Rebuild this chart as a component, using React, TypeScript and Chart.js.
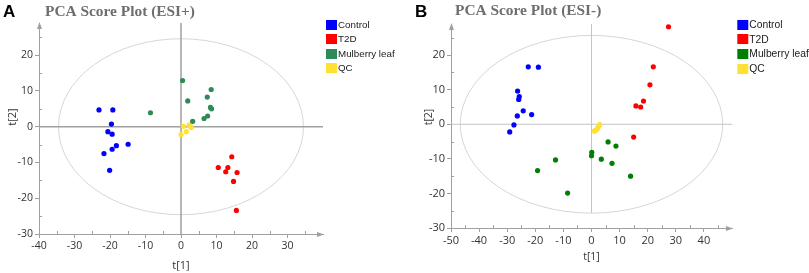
import React, { useEffect, useRef } from 'react';
import { Chart, registerables } from 'chart.js';
Chart.register(...registerables);

const GROUP_LABELS = ['Control', 'T2D', 'Mulberry leaf', 'QC'];

// Panel A (ESI+)
const A_CONTROL_X = [-23.1, -19.2, -19.6, -20.6, -19.4, -14.9, -18.2, -19.4, -21.7, -20.1];
const A_CONTROL_Y = [4.7, 4.7, 0.75, -1.4, -2.1, -4.9, -5.3, -6.3, -7.5, -12.2];
const A_T2D_X = [14.3, 10.5, 13.2, 12.6, 15.8, 14.8, 15.6];
const A_T2D_Y = [-8.4, -11.4, -11.4, -12.6, -12.8, -15.3, -23.4];
const A_LEAF_X = [-8.6, 0.45, 1.9, 8.5, 7.4, 8.3, 8.6, 7.5, 6.5, 3.3];
const A_LEAF_Y = [3.9, 12.9, 7.2, 10.4, 8.3, 5.4, 5.0, 3.0, 2.3, 1.5];
const A_QC_X = [0.7, 2.3, 2.9, 1.5, 0.0, 2.6];
const A_QC_Y = [0.1, 0.5, -0.2, -1.4, -2.2, 0.2];

// Panel B (ESI-)
const B_CONTROL_X = [-22.5, -18.9, -26.3, -25.7, -25.9, -24.3, -21.3, -26.4, -27.6, -29.1];
const B_CONTROL_Y = [16.6, 16.5, 9.6, 8.0, 7.2, 3.9, 2.8, 2.4, -0.2, -2.2];
const B_T2D_X = [27.4, 22.0, 20.8, 18.5, 15.8, 17.5, 15.0];
const B_T2D_Y = [28.2, 16.6, 11.4, 6.7, 5.3, 5.0, -3.7];
const B_LEAF_X = [5.9, 8.7, 0.1, 0.0, 3.5, -12.8, 7.3, -19.2, 13.9, -8.5];
const B_LEAF_Y = [-5.1, -6.3, -8.1, -9.1, -10.1, -10.3, -11.3, -13.4, -15.0, -19.9];
const B_QC_X = [2.95, 2.7, 2.3, 2.0, 1.3, 1.05];
const B_QC_Y = [-0.1, -0.4, -0.9, -1.4, -1.8, -2.0];

const A_X_TICKS = [-40, -30, -20, -10, 0, 10, 20, 30];
const B_X_TICKS = [-50, -40, -30, -20, -10, 0, 10, 20, 30, 40];
const Y_TICKS = [-30, -20, -10, 0, 10, 20];

const A_COLORS = ['#0000ff', '#ff0000', '#2e8b57', '#ffe135'];
const B_COLORS = ['#0000ff', '#ff0000', '#008000', '#ffe135'];

const SANS = '"Liberation Sans", Arial, sans-serif';
const UI = '"Open Sans", "Noto Sans", sans-serif';
const SERIF = '"Liberation Serif", "Times New Roman", serif';

type Spec = {
  letter: string;
  title: string;
  xs: number[][];
  ys: number[][];
  colors: string[];
  left: number;
  width: number;
  padTop: number;
  padRight: number;
  yAxisWidth: number;
  xAxisHeight: number;
  xMin: number;
  xMax: number;
  yMin: number;
  yMax: number;
  xTicks: number[];
  tickFont: number;
  axisTitleFont: number;
  xTitlePad: number;
  yTitleX: number;
  yTitleY: number;
  legendX: number;
  legendY: number;
  legendStep: number;
  legendFont: number;
  titleX: number;
  titleY: number;
  letterX: number;
  letterY: number;
  ellA: number;
  ellB: number;
  vBottom: number | null;
  zeroColor: string;
  zeroWidth: number;
};

const SPEC_A: Spec = {
  letter: 'A', title: 'PCA Score Plot (ESI+)',
  xs: [A_CONTROL_X, A_T2D_X, A_LEAF_X, A_QC_X],
  ys: [A_CONTROL_Y, A_T2D_Y, A_LEAF_Y, A_QC_Y],
  colors: A_COLORS,
  left: 0, width: 404, padTop: 23, padRight: 81, yAxisWidth: 39, xAxisHeight: 39,
  xMin: -40, xMax: 40, yMin: -30, yMax: 29, xTicks: A_X_TICKS,
  tickFont: 10.5, axisTitleFont: 11, xTitlePad: 1,
  yTitleX: 12.5, yTitleY: 117,
  legendX: 326, legendY: 24.7, legendStep: 14.5, legendFont: 9.8,
  titleX: 45, titleY: 16, letterX: 3, letterY: 17.3,
  ellA: 34.5, ellB: 24.6, vBottom: null, zeroColor: '#a0a0a0', zeroWidth: 1.5,
};

const SPEC_B: Spec = {
  letter: 'B', title: 'PCA Score Plot (ESI-)',
  xs: [B_CONTROL_X, B_T2D_X, B_LEAF_X, B_QC_X],
  ys: [B_CONTROL_Y, B_T2D_Y, B_LEAF_Y, B_QC_Y],
  colors: B_COLORS,
  left: 405, width: 404, padTop: 24, padRight: 77, yAxisWidth: 46, xAxisHeight: 45,
  xMin: -50, xMax: 50, yMin: -30, yMax: 29, xTicks: B_X_TICKS,
  tickFont: 11, axisTitleFont: 10.5, xTitlePad: 9.7,
  yTitleX: 24, yTitleY: 117,
  legendX: 332.3, legendY: 24.7, legendStep: 14.7, legendFont: 10.3,
  titleX: 50, titleY: 15, letterX: 10, letterY: 16.7,
  ellA: 46.7, ellB: 25.7, vBottom: -25.7, zeroColor: '#c4c4c4', zeroWidth: 1,
};

const AXIS_COLOR = '#a0a0a0';

function makeDecor(spec: Spec) {
  return {
    id: 'decor' + spec.letter,
    beforeDatasetsDraw(chart: any) {
      const { ctx, chartArea: ca, scales } = chart;
      const x = scales.x, y = scales.y;
      const cx = x.getPixelForValue(0);
      const cy = y.getPixelForValue(0);
      const rx = x.getPixelForValue(spec.ellA) - cx;
      const ry = cy - y.getPixelForValue(spec.ellB);
      ctx.save();
      ctx.strokeStyle = '#d6d6d6';
      ctx.lineWidth = 1;
      ctx.beginPath();
      ctx.ellipse(cx, cy, rx, ry, 0, 0, Math.PI * 2);
      ctx.stroke();
      ctx.strokeStyle = spec.zeroColor;
      ctx.lineWidth = spec.zeroWidth;
      ctx.beginPath();
      ctx.moveTo(ca.left, cy);
      ctx.lineTo(ca.right, cy);
      ctx.moveTo(cx, ca.top);
      ctx.lineTo(cx, spec.vBottom == null ? ca.bottom : y.getPixelForValue(spec.vBottom));
      ctx.stroke();
      // minor ticks (inside)
      ctx.strokeStyle = AXIS_COLOR;
      ctx.lineWidth = 1;
      ctx.beginPath();
      for (let v = spec.xMin + 5; v < spec.xMax; v += 10) {
        const px = Math.round(x.getPixelForValue(v)) + 0.5;
        ctx.moveTo(px, ca.bottom);
        ctx.lineTo(px, ca.bottom - 3);
      }
      for (let v = spec.yMin + 5; v < spec.yMax; v += 10) {
        const py = Math.round(y.getPixelForValue(v)) + 0.5;
        ctx.moveTo(ca.left, py);
        ctx.lineTo(ca.left + 3, py);
      }
      ctx.stroke();
      ctx.restore();
    },
    afterDraw(chart: any) {
      const { ctx, chartArea: ca } = chart;
      ctx.save();
      // arrows
      ctx.fillStyle = AXIS_COLOR;
      ctx.beginPath();
      ctx.moveTo(ca.right + 1, ca.bottom + 0.5);
      ctx.lineTo(ca.right - 6, ca.bottom - 2);
      ctx.lineTo(ca.right - 6, ca.bottom + 3);
      ctx.closePath();
      ctx.fill();
      ctx.beginPath();
      ctx.moveTo(ca.left + 0.5, ca.top - 1);
      ctx.lineTo(ca.left - 2, ca.top + 6);
      ctx.lineTo(ca.left + 3, ca.top + 6);
      ctx.closePath();
      ctx.fill();
      // y title
      ctx.fillStyle = '#333';
      ctx.font = `${spec.axisTitleFont}px ${UI}`;
      ctx.textAlign = 'center';
      ctx.textBaseline = 'middle';
      ctx.save();
      ctx.translate(spec.yTitleX, spec.yTitleY);
      ctx.rotate(-Math.PI / 2);
      ctx.fillText('t[2]', 0, 0);
      ctx.restore();
      // legend
      ctx.font = `${spec.legendFont}px ${SANS}`;
      ctx.textAlign = 'left';
      ctx.textBaseline = 'middle';
      chart.data.datasets.forEach((ds: any, i: number) => {
        const cyy = spec.legendY + i * spec.legendStep;
        ctx.fillStyle = ds.backgroundColor;
        ctx.fillRect(spec.legendX, Math.round(cyy - 5), 11, 10);
        ctx.fillStyle = '#1a1a1a';
        ctx.fillText(ds.label, spec.legendX + 12, cyy + 0.5);
      });
      // title & panel letter
      ctx.textBaseline = 'alphabetic';
      ctx.fillStyle = '#6e6e6e';
      ctx.font = `bold 15.4px ${SERIF}`;
      ctx.fillText(spec.title, spec.titleX, spec.titleY);
      ctx.fillStyle = '#000';
      ctx.font = `bold 17px ${SANS}`;
      ctx.fillText(spec.letter, spec.letterX, spec.letterY);
      ctx.restore();
    },
  };
}

function Panel({ spec }: { spec: Spec }) {
  const ref = useRef<HTMLCanvasElement | null>(null);
  useEffect(() => {
    if (!ref.current) return;
    const datasets = GROUP_LABELS.map((label, i) => ({
      label,
      data: spec.xs[i].map((xv, j) => ({ x: xv, y: spec.ys[i][j] })),
      backgroundColor: spec.colors[i],
      borderWidth: 0,
      pointRadius: 2.6,
      pointHoverRadius: 2.6,
    }));
    const tickFont = { family: UI, size: spec.tickFont };
    const chart = new Chart(ref.current, {
      type: 'scatter',
      data: { datasets },
      plugins: [makeDecor(spec)],
      options: {
        responsive: false,
        animation: false,
        events: [],
        layout: { padding: { top: spec.padTop, right: spec.padRight, bottom: 0, left: 0 } },
        plugins: {
          legend: { display: false },
          tooltip: { enabled: false },
          title: { display: false },
        },
        scales: {
          x: {
            type: 'linear',
            min: spec.xMin,
            max: spec.xMax,
            afterBuildTicks: (s: any) => { s.ticks = spec.xTicks.map((v) => ({ value: v })); },
            afterFit: (s: any) => { s.height = spec.xAxisHeight; },
            grid: { drawOnChartArea: false, drawTicks: true, tickLength: 4, color: AXIS_COLOR },
            border: { display: true, color: AXIS_COLOR },
            ticks: { color: '#333', font: tickFont, padding: 2, maxRotation: 0, autoSkip: false },
            title: {
              display: true, text: 't[1]', color: '#333',
              font: { family: UI, size: spec.axisTitleFont },
              padding: { top: 0, bottom: spec.xTitlePad },
            },
          },
          y: {
            type: 'linear',
            min: spec.yMin,
            max: spec.yMax,
            afterBuildTicks: (s: any) => { s.ticks = Y_TICKS.map((v) => ({ value: v })); },
            afterFit: (s: any) => { s.width = spec.yAxisWidth; },
            grid: { drawOnChartArea: false, drawTicks: true, tickLength: 4, color: AXIS_COLOR },
            border: { display: true, color: AXIS_COLOR },
            ticks: { color: '#333', font: tickFont, padding: 2, autoSkip: false },
            title: { display: false },
          },
        },
      } as any,
    });
    return () => chart.destroy();
  }, [spec]);
  return (
    <canvas
      ref={ref}
      width={spec.width}
      height={273}
      style={{ position: 'absolute', left: spec.left, top: 0, width: spec.width, height: 273, display: 'block' }}
    />
  );
}

export default function App() {
  return (
    <div style={{ position: 'fixed', left: 0, top: 0, width: 809, height: 273, background: '#fff', overflow: 'hidden' }}>
      <Panel spec={SPEC_A} />
      <Panel spec={SPEC_B} />
    </div>
  );
}
